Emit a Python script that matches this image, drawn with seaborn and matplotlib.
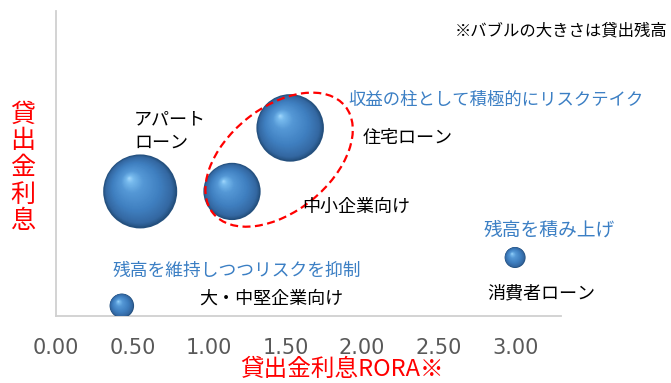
"""貸出ポートフォリオのバブルチャート（貸出金利息 × RORA）。"""

import matplotlib

matplotlib.use("Agg")
import matplotlib.pyplot as plt
import numpy as np
import pandas as pd
import seaborn as sns
from matplotlib.colors import LinearSegmentedColormap
from matplotlib.patches import Ellipse
from matplotlib.transforms import IdentityTransform

# 画像から読み取った値（y軸は目盛りなしのため相対値）
segments = ["アパートローン", "中小企業向け", "住宅ローン", "消費者ローン", "大・中堅企業向け"]
rora = [0.55, 1.15, 1.53, 3.00, 0.43]
interest = [0.49, 0.49, 0.74, 0.23, 0.04]
balance = [1.37, 0.82, 1.14, 0.11, 0.15]
x_ticks = [0.0, 0.5, 1.0, 1.5, 2.0, 2.5, 3.0]

BLUE_TEXT = "#3b7fc4"
RED = "#ff0000"
MAX_SIZE = 2840  # 最大バブルの面積（pt^2）

sns.set_style("white")
plt.rcParams["font.family"] = ["Noto Sans CJK JP", "DejaVu Sans"]

data = pd.DataFrame({"segment": segments, "rora": rora, "interest": interest, "balance": balance})

figure = plt.figure(figsize=(6.71, 3.83), dpi=100)
axis = figure.add_axes([0.0835, 0.175, 0.7526, 0.7963])
axis.set_xlim(0, 3.3)
axis.set_ylim(0, 1.2)

sns.scatterplot(
    data=data, x="rora", y="interest", size="balance",
    sizes=(0, MAX_SIZE), size_norm=(0, max(balance)),
    color="#24507e", linewidth=0, legend=False, ax=axis, zorder=3,
)

# 立体感：ハイライト方向へずらした同心円を重ねる
sizes = MAX_SIZE * data["balance"].to_numpy() / max(balance)
centers = axis.transData.transform(data[["rora", "interest"]].to_numpy())
radius = np.sqrt(sizes) / 2 * figure.dpi / 72
highlight = np.column_stack([-0.30 * radius, 0.36 * radius])
ball = LinearSegmentedColormap.from_list(
    "ball",
    [(0, "#24507e"), (0.10, "#3468a2"), (0.35, "#3f7fc0"), (0.7, "#5598d6"), (0.9, "#78bbee"), (1, "#a8dcff")],
)
for t in np.linspace(0.04, 0.97, 45):
    points = axis.transData.inverted().transform(centers + highlight * t)
    axis.scatter(points[:, 0], points[:, 1], s=sizes * (1 - t) ** 2,
                 color=ball(t), linewidth=0, zorder=3 + t)

axis.set_xticks(x_ticks)
axis.set_xticklabels([f"{v:.2f}" for v in x_ticks], family="DejaVu Sans", fontsize=15, color="#595959")
axis.set_yticks([])
axis.tick_params(axis="x", length=0, pad=16)
for side in ("top", "right"):
    axis.spines[side].set_visible(False)
for side in ("left", "bottom"):
    axis.spines[side].set_color("#d0d0d0")
    axis.spines[side].set_linewidth(1.3)
axis.set_xlabel("")
axis.set_ylabel("")

# 赤い点線の楕円（中小企業向けと住宅ローンを囲む）
mid = centers[[1, 2]].mean(axis=0) + np.array([18, 0])
axis.add_patch(Ellipse(mid, 170, 104, angle=39, transform=IdentityTransform(),
                       fill=False, edgecolor=RED, linewidth=1.6, linestyle=(0, (3.6, 2)),
                       zorder=6, clip_on=False))


def label(x, y, text, color="black", size=13, **kwargs):
    """画像の左上基準のピクセル座標で文字を置く。"""
    figure.text(x / 671, 1 - y / 383, text, color=color, fontsize=size, va="center", **kwargs)


label(455, 31, "※バブルの大きさは貸出残高", size=11.8)
label(348, 100, "収益の柱として積極的にリスクテイク", color=BLUE_TEXT, size=12.5)
label(134, 119, "アパート")
label(134, 143, "ローン")
label(363, 138, "住宅ローン")
label(302, 207, "中小企業向け")
label(484, 230, "残高を積み上げ", color=BLUE_TEXT, size=13.5)
label(113, 271, "残高を維持しつつリスクを抑制", color=BLUE_TEXT, size=12.8)
label(199, 299, "大・中堅企業向け")
label(487, 293, "消費者ローン")

label(342, 369, "貸出金利息RORA※", color=RED, size=17, ha="center")
label(23, 168, "貸\n出\n金\n利\n息", color=RED, size=18, ha="center", linespacing=1.03)

figure.savefig("out.png", dpi=100)
plt.close(figure)
